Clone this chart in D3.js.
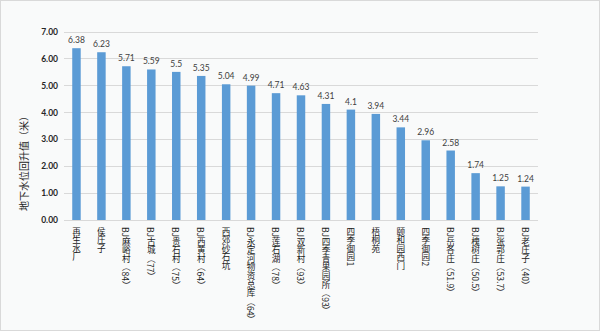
<!DOCTYPE html>
<html><head><meta charset="utf-8">
<script src="https://cdn.jsdelivr.net/npm/d3@7/dist/d3.min.js"></script>
<style>
html,body{margin:0;padding:0;background:#fff;}
svg{display:block;}
</style></head>
<body>
<script>
const categories = ["再生水厂","侯庄子","BJ麻峪村（84）","BJ古城（77）","BJ贵石村（75）","BJ西黄村（64）","西郊砂石坑","BJ永定河物资总库（64）","BJ莲石湖（78）","BJ双新村（93）","BJ四季青果园所（93）","四季御园1","梧桐苑","颐和园西门","四季御园2","BJ岳各庄（51.9）","BJ槐树庄（50.5）","BJ张郭庄（53.7）","BJ老庄子（40）"];
const values = [6.38,6.23,5.71,5.59,5.5,5.35,5.04,4.99,4.71,4.63,4.31,4.1,3.94,3.44,2.96,2.58,1.74,1.25,1.24];
const yTicks = [0,1,2,3,4,5,6,7];
const yTitle = "地下水位回升值（米）";

const W = 600, H = 331;
const m = {left:64, right:62, top:31.5, bottom:111};
const svg = d3.select("body").append("svg").attr("width",W).attr("height",H);
svg.append("rect").attr("x",0.5).attr("y",0.5).attr("width",W-1).attr("height",H-1)
  .attr("fill","#f9fafa").attr("stroke","#d9d9d9");

const x = d3.scaleBand().domain(categories).range([m.left, W-m.right]).paddingInner(0.66).paddingOuter(0.33);
const y = d3.scaleLinear().domain([0,7]).range([H-m.bottom, m.top]);

const numFont = "Lato, 'Open Sans', 'Liberation Sans', sans-serif";
const cjkFont = "'Noto Sans CJK SC', sans-serif";

// grid
svg.append("g").selectAll("line").data(yTicks).join("line")
  .attr("x1",m.left).attr("x2",W-m.right)
  .attr("y1",d=>Math.round(y(d))+0.5).attr("y2",d=>Math.round(y(d))+0.5)
  .attr("stroke","#d9d9d9").attr("stroke-width",1);

// y axis labels
const yAxis = d3.axisLeft(y).tickValues(yTicks).tickFormat(d3.format(".2f")).tickSize(0).tickPadding(6);
const ga = svg.append("g").attr("transform",`translate(${m.left},0)`).call(yAxis);
ga.select(".domain").remove();
ga.selectAll("text").attr("font-family",numFont).attr("font-size","8.5px").attr("font-weight","bold").attr("fill","#262626");

// bars
svg.append("g").selectAll("rect").data(values).join("rect")
  .attr("x",(d,i)=>x(categories[i])).attr("width",x.bandwidth())
  .attr("y",d=>y(d)).attr("height",d=>y(0)-y(d))
  .attr("fill","#5b9bd5");

// value labels
svg.append("g").selectAll("text").data(values).join("text")
  .attr("x",(d,i)=>x(categories[i])+x.bandwidth()/2)
  .attr("y",d=>y(d)-5)
  .attr("text-anchor","middle")
  .attr("font-family",numFont).attr("font-size","8.5px").attr("fill","#404040")
  .text(d=>String(d));

// x labels (vertical)
svg.append("g").selectAll("text").data(categories).join("text")
  .attr("x",d=>x(d)+x.bandwidth()/2)
  .attr("y",y(0)+7)
  .attr("writing-mode","vertical-rl")
  .style("writing-mode","vertical-rl")
  .attr("font-family",cjkFont).attr("font-size","8.6px").attr("fill","#1a1a1a")
  .text(d=>d);

// y title
svg.append("text")
  .attr("transform","translate(23,161) rotate(-90)")
  .attr("text-anchor","middle").attr("dominant-baseline","central")
  .attr("font-family",cjkFont).attr("font-size","10px").attr("fill","#262626")
  .text(yTitle);
</script>
</body></html>
